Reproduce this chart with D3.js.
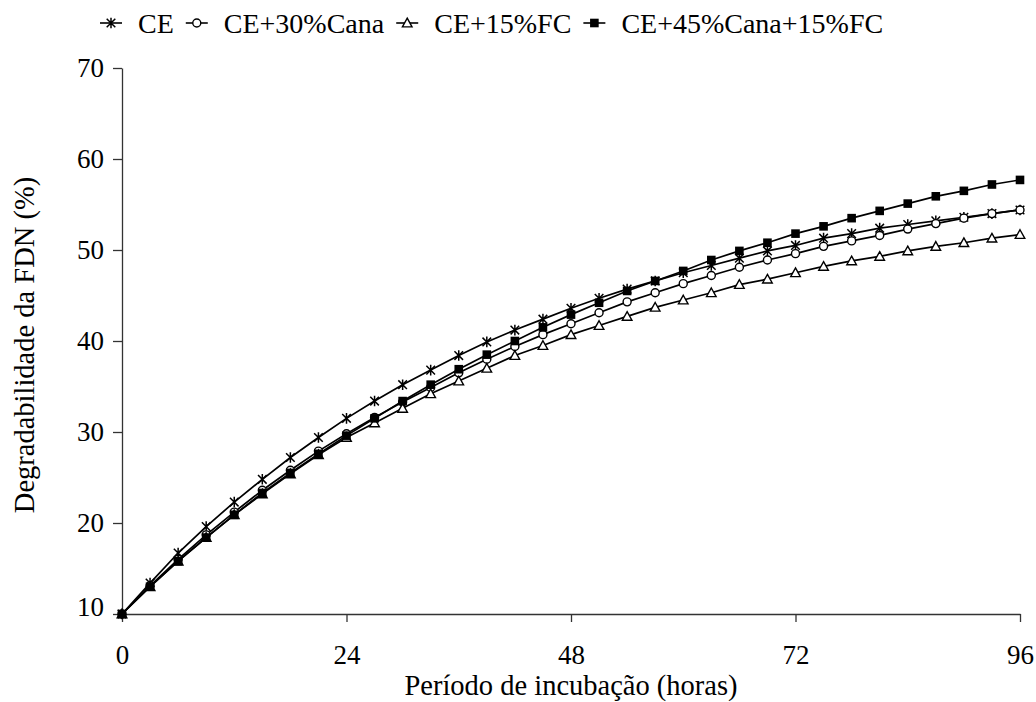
<!DOCTYPE html>
<html>
<head>
<meta charset="utf-8">
<script src="https://cdn.jsdelivr.net/npm/d3@7/dist/d3.min.js"></script>
<style>
  html, body { margin: 0; padding: 0; background: #fff; }
  svg { display: block; }
  text { font-family: "Liberation Serif", "Times New Roman", serif; fill: #000; }
</style>
</head>
<body>
<svg id="chart" width="1036" height="702"></svg>
<script>
// ---- data ----
const hours = [0,3,6,9,12,15,18,21,24,27,30,33,36,39,42,45,48,51,54,57,60,63,66,69,72,75,78,81,84,87,90,93,96];
const seriesNames = ["CE", "CE+30%Cana", "CE+15%FC", "CE+45%Cana+15%FC"];
const valuesCE = [10.0,13.4,16.7,19.6,22.3,24.8,27.2,29.4,31.5,33.4,35.2,36.8,38.4,39.9,41.2,42.4,43.6,44.7,45.7,46.6,47.5,48.3,49.1,49.9,50.5,51.3,51.8,52.4,52.8,53.2,53.6,54.0,54.4];
const valuesCana = [10.0,13.1,16.0,18.7,21.2,23.6,25.8,27.9,29.8,31.6,33.3,34.9,36.5,38.0,39.4,40.7,41.9,43.1,44.3,45.3,46.3,47.2,48.1,48.9,49.6,50.4,51.0,51.6,52.3,52.9,53.5,54.0,54.4];
const valuesFC = [10.0,13.0,15.8,18.4,20.9,23.2,25.4,27.5,29.4,31.0,32.6,34.2,35.6,37.0,38.4,39.5,40.7,41.7,42.7,43.7,44.5,45.3,46.2,46.8,47.5,48.2,48.8,49.3,49.9,50.4,50.8,51.3,51.7];
const valuesCanaFC = [10.0,13.0,15.8,18.4,20.9,23.3,25.5,27.6,29.6,31.5,33.4,35.2,36.9,38.5,40.0,41.5,42.9,44.2,45.5,46.6,47.7,48.9,49.9,50.8,51.8,52.6,53.5,54.3,55.1,55.9,56.5,57.2,57.7];
const xTicks = [0,24,48,72,96];
const yTicks = [10,20,30,40,50,60,70];
const xTitle = "Período de incubação (horas)";
const yTitle = "Degradabilidade da FDN (%)";

const seriesValues = [valuesCE, valuesCana, valuesFC, valuesCanaFC];
const markerTypes = ["star", "circle", "triangle", "square"];

// ---- layout ----
const svg = d3.select("#chart");
const x = d3.scaleLinear().domain([0, 96]).range([122, 1020]);
const y = d3.scaleLinear().domain([10, 70]).range([614, 68]);
const TICK_FONT = 27, LEG_FONT = 28, TITLE_FONT = 28.5;

function drawMarker(g, type, cx, cy) {
  if (type === "star") {
    const s = 4.3;
    g.append("path")
      .attr("d", `M${cx-s},${cy-s}L${cx+s},${cy+s}M${cx+s},${cy-s}L${cx-s},${cy+s}M${cx},${cy-s-1}L${cx},${cy+s+1}`)
      .attr("stroke", "#000").attr("stroke-width", 1.5).attr("fill", "none");
  } else if (type === "circle") {
    g.append("circle").attr("cx", cx).attr("cy", cy).attr("r", 4)
      .attr("fill", "#fff").attr("stroke", "#000").attr("stroke-width", 1.4);
  } else if (type === "triangle") {
    const s = 4.8;
    g.append("path")
      .attr("d", `M${cx},${cy-s}L${cx+s},${cy+s*0.8}L${cx-s},${cy+s*0.8}Z`)
      .attr("fill", "#fff").attr("stroke", "#000").attr("stroke-width", 1.4);
  } else {
    const s = 4.3;
    g.append("rect").attr("x", cx-s).attr("y", cy-s).attr("width", 2*s).attr("height", 2*s)
      .attr("fill", "#000");
  }
}

// axes
const xAxis = d3.axisBottom(x).tickValues(xTicks).tickSize(8).tickSizeOuter(0).tickFormat(d3.format("d"));
const yAxis = d3.axisLeft(y).tickValues(yTicks).tickSize(9).tickSizeOuter(0).tickFormat(d3.format("d"));

const gx = svg.append("g").attr("transform", "translate(0,614)").call(xAxis);
gx.select(".domain").attr("stroke", "#333").attr("stroke-width", 1.3);
gx.selectAll(".tick line").attr("stroke", "#333").attr("stroke-width", 1.3);
gx.selectAll(".tick text").attr("font-size", TICK_FONT).attr("font-family", "Liberation Serif").attr("fill", "#000").attr("y", 41).attr("dy", "0.35em");

const gy = svg.append("g").attr("transform", "translate(122,0)").call(yAxis);
gy.select(".domain").attr("stroke", "#333").attr("stroke-width", 1.3);
gy.selectAll(".tick line").attr("stroke", "#333").attr("stroke-width", 1.3);
gy.selectAll(".tick text").attr("font-size", TICK_FONT).attr("font-family", "Liberation Serif").attr("fill", "#000").attr("x", -18)
  .attr("dy", d => d === 10 ? "0.05em" : "0.32em");

// axis titles
svg.append("text").attr("x", 571).attr("y", 695).attr("text-anchor", "middle")
  .attr("font-size", TITLE_FONT).text(xTitle);
svg.append("text").attr("transform", "translate(34,345) rotate(-90)").attr("text-anchor", "middle")
  .attr("font-size", TITLE_FONT).text(yTitle);

// lines and markers
const line = d3.line().x((d, i) => x(hours[i])).y(d => y(d));
seriesValues.forEach((vals, si) => {
  const g = svg.append("g");
  g.append("path").datum(vals).attr("d", line).attr("fill", "none").attr("stroke", "#000").attr("stroke-width", 1.7);
  vals.forEach((v, i) => drawMarker(g, markerTypes[si], x(hours[i]), y(v)));
});

// legend
const lg = svg.append("g");
let lx = 100;
const ly = 23;
seriesNames.forEach((name, si) => {
  lg.append("line").attr("x1", lx).attr("x2", lx + 22).attr("y1", ly).attr("y2", ly)
    .attr("stroke", "#000").attr("stroke-width", 1.6);
  drawMarker(lg, markerTypes[si], lx + 11, ly);
  const t = lg.append("text").attr("x", lx + 38).attr("y", ly).attr("dy", "0.35em")
    .attr("font-size", LEG_FONT).text(name);
  lx = lx + 38 + t.node().getComputedTextLength() + 12;
});
</script>
</body>
</html>
